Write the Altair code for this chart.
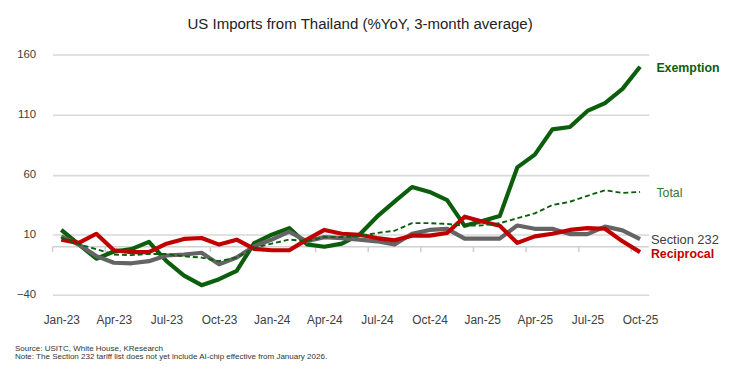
import altair as alt
import pandas as pd

# ---- data -------------------------------------------------------------
months = [
    "Jan-23", "Feb-23", "Mar-23", "Apr-23", "May-23", "Jun-23", "Jul-23", "Aug-23", "Sep-23",
    "Oct-23", "Nov-23", "Dec-23", "Jan-24", "Feb-24", "Mar-24", "Apr-24", "May-24", "Jun-24",
    "Jul-24", "Aug-24", "Sep-24", "Oct-24", "Nov-24", "Dec-24", "Jan-25", "Feb-25", "Mar-25",
    "Apr-25", "May-25", "Jun-25", "Jul-25", "Aug-25", "Sep-25", "Oct-25",
]
exemption = [14, 2, -10, -4, -2, 4, -12, -24, -32, -27, -20, 3, 10, 15.5, 2, 0, 2.6, 10,
             25, 37.5, 49.7, 45.6, 38.8, 17.4, 21.5, 25.5, 66, 76.6, 97.7, 99.6, 113, 119.6,
             131.4, 149.8]
total = [7.5, 2, -2, -6.5, -7, -6, -6, -8, -9, -12, -9, -1, 2.6, 6, 4.6, 8, 8, 9, 11.4,
         13.3, 19.6, 19.6, 19, 17.4, 17.8, 19.6, 23.7, 27.8, 34.7, 37.4, 42.4, 47, 44.8, 45.6]
section232 = [8.6, 1.8, -7.8, -13.3, -13.8, -12, -7.3, -6.5, -5, -14.7, -9, 0.4, 6, 12.5,
              4.5, 8, 7.2, 5.9, 4.5, 1.8, 10.8, 14, 14.9, 6.7, 6.7, 6.7, 17.7, 14.9, 14.9,
              10.5, 10.5, 16.8, 13.6, 6.4]
reciprocal = [5.9, 3.2, 10.8, -2.9, -4.5, -4.5, 2.5, 6.5, 7.3, 1.8, 5.9, -1.8, -2.9, -2.9,
              5.9, 14, 10.8, 10, 7.2, 5.3, 9.2, 9.2, 11.4, 25, 21, 17.4, 3.2, 8.6, 10.8, 14,
              15.5, 15, 4.5, -4.5]

y_ticks = [-40, 10, 60, 110, 160]
x_label_idx = list(range(0, len(months), 3))
x_tick_pos = [i - 0.5 for i in x_label_idx]

title_text = "US Imports from Thailand (%YoY, 3-month average)"
source_text = "Source: USITC, White House, KResearch"
note_text = "Note: The Section 232 tariff list does not yet include AI-chip effective from January 2026."

GREEN = "#0b5e0b"
RED = "#c00000"
GRAY = "#646464"
FONT = "Liberation Sans"

# ---- frames -------------------------------------------------------------
def frame(values):
    return pd.DataFrame({"i": list(range(len(values))), "v": values})

label_map = "{" + ",".join(f"'{i}':'{months[i]}'" for i in x_label_idx) + "}"

x_scale = alt.Scale(domain=[-0.5, len(months) - 0.5], nice=False, zero=False)
y_scale = alt.Scale(domain=[-40, 160], nice=False, zero=False)

x_enc = alt.X(
    "i:Q", scale=x_scale, title=None,
    axis=alt.Axis(values=x_label_idx, labelExpr=f"{label_map}[datum.value + '']",
                  grid=False, domain=False, ticks=False, tickSize=0, labelPadding=20,
                  labelFont=FONT, labelFontSize=12, labelColor="#404040"),
)
y_enc = alt.Y(
    "v:Q", scale=y_scale, title=None,
    axis=alt.Axis(values=y_ticks, grid=True, gridColor="#d9d9d9", gridWidth=1.6,
                  domain=False, ticks=False, tickSize=0, labelPadding=17,
                  labelFont=FONT, labelFontSize=11.5, labelColor="#404040"),
)

base_grid = alt.Chart(frame(exemption)).mark_line(opacity=0).encode(x=x_enc, y=y_enc)

zero_line = alt.Chart(pd.DataFrame({"z": [0]})).mark_rule(
    color="#d0d0d0", strokeWidth=1.6
).encode(y=alt.Y("z:Q", scale=y_scale))

tick_marks = alt.Chart(pd.DataFrame({"t": x_tick_pos, "a": 0, "b": -4.5})).mark_rule(
    color="#d0d0d0", strokeWidth=1.6
).encode(x=alt.X("t:Q", scale=x_scale), y=alt.Y("a:Q", scale=y_scale),
         y2="b:Q")


def series_line(values, color, width, dash=None):
    kw = dict(color=color, strokeWidth=width, strokeJoin="round", strokeCap="butt")
    if dash:
        kw["strokeDash"] = dash
    return alt.Chart(frame(values)).mark_line(**kw).encode(
        x=alt.X("i:Q", scale=x_scale), y=alt.Y("v:Q", scale=y_scale))


lines = [
    series_line(exemption, GREEN, 4.2),
    series_line(section232, GRAY, 4.2),
    series_line(reciprocal, RED, 4.2),
    series_line(total, GREEN, 1.9, [5, 3]),
]

last = len(months) - 1
labels_spec = [
    ("Exemption", exemption[-1], GREEN, "bold", 16.5, 1, 12.5),
    ("Total", total[-1], "#2f7a2f", "normal", 16.5, 1.5, 12.5),
    ("Section 232", section232[-1], "#404040", "normal", 11, 1.5, 13),
    ("Reciprocal", reciprocal[-1], RED, "bold", 11, 1.5, 12.5),
]
label_layers = []
for name, val, col, weight, dx, dy, fs in labels_spec:
    label_layers.append(
        alt.Chart(pd.DataFrame({"i": [last], "v": [val], "t": [name]})).mark_text(
            align="left", baseline="middle", dx=dx, dy=dy, color=col,
            fontWeight=weight, font=FONT, fontSize=fs,
        ).encode(x=alt.X("i:Q", scale=x_scale), y=alt.Y("v:Q", scale=y_scale), text="t:N")
    )

title_layer = alt.Chart(pd.DataFrame({"t": [title_text]})).mark_text(
    align="center", baseline="middle", font=FONT, fontSize=15.2, color="#222222"
).encode(x=alt.value(311), y=alt.value(-31), text="t:N")

source_layer = alt.Chart(pd.DataFrame({"t": [source_text]})).mark_text(
    align="left", baseline="middle", font=FONT, fontSize=8.1, color="#333333"
).encode(x=alt.value(-38), y=alt.value(297.5), text="t:N")
note_layer = alt.Chart(pd.DataFrame({"t": [note_text]})).mark_text(
    align="left", baseline="middle", font=FONT, fontSize=8.1, color="#333333"
).encode(x=alt.value(-38), y=alt.value(306), text="t:N")

chart = alt.layer(
    base_grid, zero_line, tick_marks, *lines, *label_layers, title_layer,
    source_layer, note_layer,
).properties(
    width=603, height=243,
    padding={"left": 45, "top": 45, "right": 75, "bottom": 70},
    autosize=alt.AutoSizeParams(type="none"),
    background="white",
).configure_view(stroke=None)

chart.save("out.html", embed_options={"renderer": "svg", "actions": False})
